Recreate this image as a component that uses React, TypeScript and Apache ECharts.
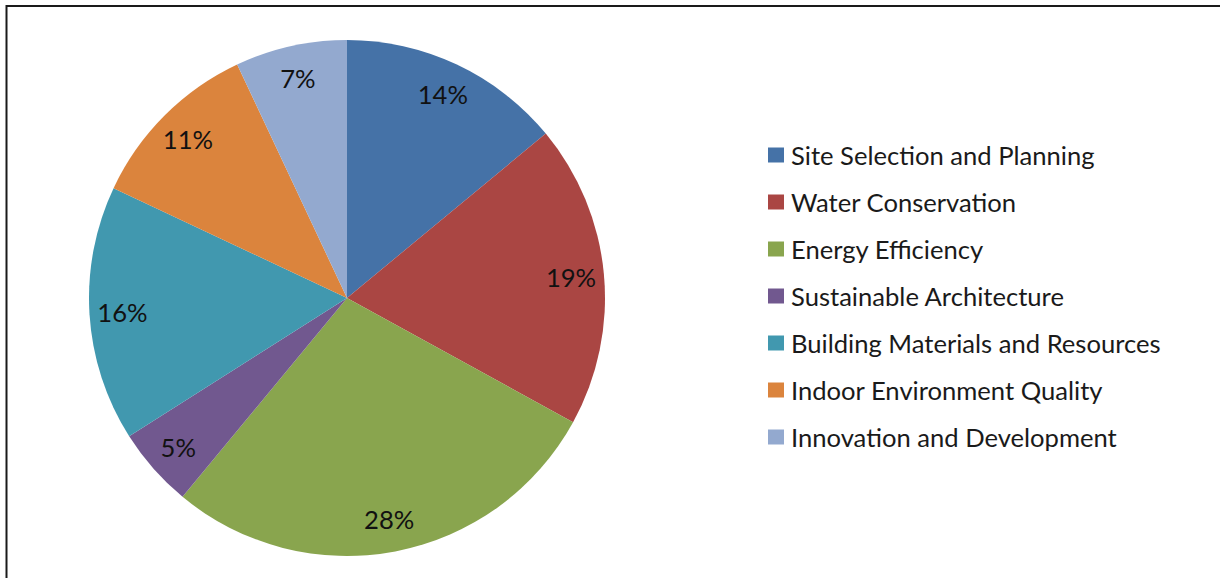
import React, { useEffect, useRef } from "react";
import * as echarts from "echarts";

const categories = [
  "Site Selection and Planning",
  "Water Conservation",
  "Energy Efficiency",
  "Sustainable Architecture",
  "Building Materials and Resources",
  "Indoor Environment Quality",
  "Innovation and Development",
];
const values = [14, 19, 28, 5, 16, 11, 7];
const colors = ["#4572A7", "#AA4643", "#89A54E", "#71588F", "#4198AF", "#DB843D", "#93A9CF"];

const FONT = "Lato";

export default function App() {
  const ref = useRef<HTMLDivElement>(null);
  useEffect(() => {
    if (!ref.current) return;
    const chart = echarts.init(ref.current, undefined, { renderer: "svg" });
    const pieData = categories.map((name, i) => ({
      name,
      value: values[i],
      itemStyle: { color: colors[i] },
    }));
    chart.setOption({
      animation: false,
      backgroundColor: "#ffffff",
      legend: {
        orient: "vertical",
        left: 768,
        top: 142,
        padding: 0,
        itemWidth: 16,
        itemHeight: 15,
        itemGap: 21,
        icon: "rect",
        data: categories,
        textStyle: { fontFamily: FONT, fontSize: 25.6, color: "#1a1a1a", lineHeight: 26, padding: [0, 0, 0, 2] },
        selectedMode: false,
      },
      graphic: [
        {
          type: "rect",
          shape: { x: 6.5, y: 6, width: 1400, height: 800 },
          style: { fill: "none", stroke: "#1a1a1a", lineWidth: 2 },
          silent: true,
        },
      ],
      series: [
        {
          type: "pie",
          center: [347, 298],
          radius: [0, 258],
          startAngle: 90,
          clockwise: true,
          label: { show: false },
          labelLine: { show: false },
          data: pieData,
          silent: true,
        },
        {
          type: "pie",
          center: [347, 298],
          radius: [186, 258],
          startAngle: 90,
          clockwise: true,
          silent: true,
          itemStyle: { color: "rgba(0,0,0,0)" },
          label: {
            show: true,
            position: "inside",
            formatter: "{c}%",
            fontFamily: FONT,
            fontSize: 25.6,
            color: "#111111",
          },
          labelLine: { show: false },
          data: categories.map((name, i) => ({ name, value: values[i] })),
        },
      ],
    });
    return () => chart.dispose();
  }, []);
  return (
    <div
      ref={ref}
      style={{ position: "fixed", left: 0, top: 0, width: 1220, height: 578 }}
    />
  );
}
